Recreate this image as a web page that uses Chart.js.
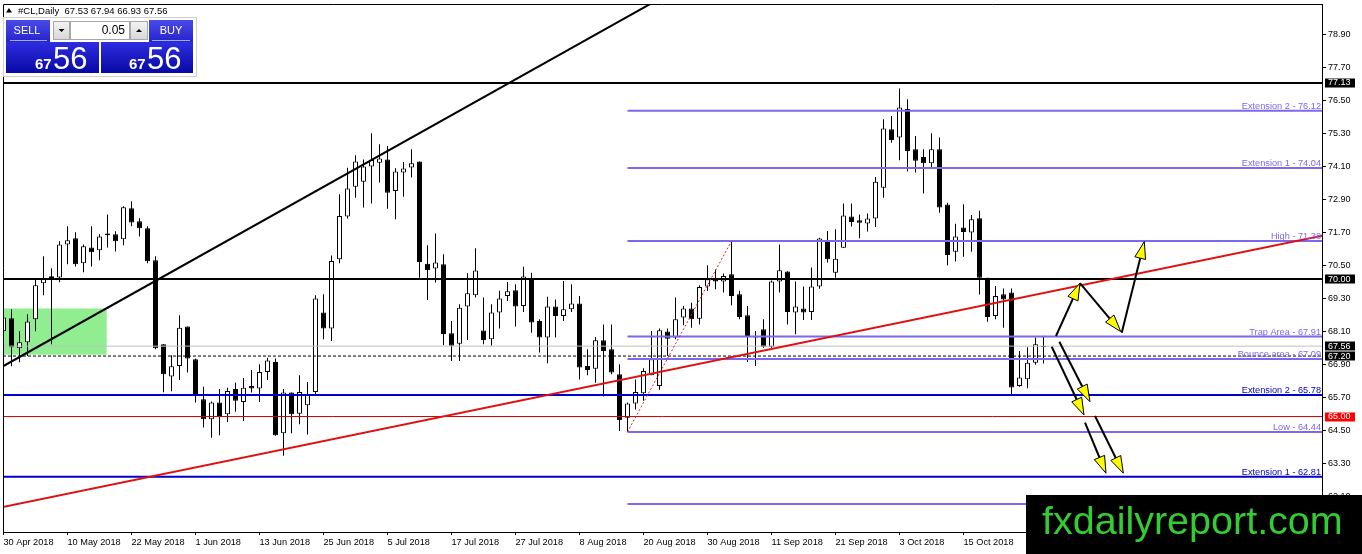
<!DOCTYPE html>
<html>
<head>
<meta charset="utf-8">
<script src="https://cdn.jsdelivr.net/npm/chart.js@4.4.1/dist/chart.umd.min.js"></script>
<style>
  html, body { margin: 0; padding: 0; background: #fff; }
  canvas { display: block; }
</style>
</head>
<body>
<canvas id="chart" width="1362" height="554"></canvas>
<script>
// #CL Daily, one bar per weekday from 30 Apr 2018
const opens = [
  68.10, 68.57, 67.48, 67.70, 68.54, 69.85, 70.03, 70.06, 71.26, 71.48,
  70.57, 71.15, 71.05, 71.59, 71.63, 71.45, 72.57, 72.10, 71.85, 70.68,
  67.63, 66.46, 66.84, 68.27, 67.08, 65.63, 64.90, 65.51, 65.08, 66.00,
  65.53, 66.11, 66.02, 66.62, 66.98, 64.39, 65.87, 65.10, 65.41, 65.89,
  68.78, 68.20, 70.72, 72.27, 73.36, 73.54, 74.09, 74.23, 74.35, 73.20,
  73.87, 74.06, 74.27, 70.56, 70.38, 70.54, 68.03, 67.65, 69.00, 69.41,
  68.13, 67.81, 68.78, 69.38, 69.59, 69.02, 70.03, 68.47, 67.87, 69.00,
  68.66, 68.90, 69.11, 66.84, 66.74, 67.77, 67.45, 66.54, 64.96, 65.47,
  65.85, 66.50, 66.11, 68.09, 67.87, 68.60, 68.93, 68.56, 69.73, 70.05,
  69.91, 70.17, 69.45, 68.68, 67.93, 68.17, 67.54, 69.91, 70.27, 68.78,
  68.93, 68.80, 69.73, 71.38, 70.23, 71.14, 72.27, 72.14, 72.02, 72.20,
  73.32, 75.45, 75.15, 76.18, 74.72, 74.44, 74.21, 74.72, 72.71, 70.99,
  71.87, 71.69, 72.21, 70.05, 68.66, 69.45, 69.51, 66.11, 66.36, 66.96,
  67.53
];
const highs = [
  69.37, 68.90, 68.10, 68.72, 70.03, 70.83, 70.39, 71.37, 71.92, 71.70,
  71.26, 71.92, 71.63, 72.35, 71.74, 72.65, 72.83, 72.21, 71.92, 70.83,
  67.63, 67.23, 68.68, 68.27, 67.11, 66.08, 65.55, 66.00, 66.05, 66.23,
  66.40, 66.69, 66.90, 67.14, 67.11, 66.00, 65.87, 66.50, 66.26, 69.41,
  69.45, 70.86, 73.08, 74.05, 74.50, 74.35, 75.30, 74.90, 74.84, 74.03,
  74.26, 74.72, 74.27, 71.23, 71.66, 70.90, 68.47, 69.08, 70.21, 71.12,
  69.33, 69.08, 69.57, 69.89, 69.81, 70.45, 70.23, 68.54, 69.36, 69.26,
  69.93, 69.81, 69.38, 67.45, 67.89, 68.35, 68.35, 66.90, 65.51, 66.35,
  66.76, 68.11, 68.20, 68.20, 69.33, 69.02, 69.14, 69.77, 70.50, 70.35,
  70.20, 71.38, 69.57, 69.02, 68.11, 68.54, 69.95, 71.26, 70.28, 69.91,
  69.73, 70.42, 71.50, 71.75, 71.81, 72.75, 72.75, 72.35, 72.38, 73.71,
  75.81, 75.93, 76.93, 76.54, 75.20, 74.72, 75.30, 75.15, 72.77, 72.01,
  72.72, 72.33, 72.48, 70.05, 69.75, 69.66, 69.66, 67.38, 67.52, 67.87,
  67.94
];
const lows = [
  67.60, 66.83, 66.97, 67.20, 68.10, 69.41, 67.63, 69.88, 70.54, 70.46,
  70.25, 70.46, 70.68, 71.15, 71.00, 71.23, 71.92, 71.55, 70.57, 67.45,
  65.88, 65.92, 66.33, 66.60, 65.51, 64.60, 64.23, 64.32, 64.80, 65.17,
  64.84, 65.87, 65.53, 66.33, 64.30, 63.57, 64.39, 64.72, 64.35, 65.75,
  67.81, 67.75, 70.57, 72.20, 72.96, 72.60, 72.75, 73.51, 72.56, 72.17,
  72.99, 73.69, 70.05, 69.24, 69.87, 67.59, 67.02, 67.02, 67.78, 69.33,
  67.63, 67.57, 68.20, 69.20, 68.27, 68.80, 68.05, 67.33, 66.94, 67.87,
  68.47, 68.80, 66.35, 66.50, 66.23, 65.73, 66.54, 64.47, 64.44, 65.26,
  65.57, 66.50, 65.97, 67.20, 67.81, 68.32, 68.23, 68.35, 69.57, 69.63,
  69.51, 69.05, 68.54, 66.98, 66.84, 67.50, 67.50, 69.51, 68.35, 67.99,
  68.51, 68.51, 69.65, 70.60, 70.05, 71.14, 71.91, 71.48, 71.73, 71.89,
  72.96, 74.96, 74.32, 73.91, 73.87, 73.11, 74.03, 72.41, 70.50, 70.64,
  70.81, 70.99, 69.44, 68.45, 68.54, 68.23, 65.75, 66.08, 66.03, 66.88,
  66.93
];
const closes = [
  68.60, 67.52, 67.70, 68.46, 69.77, 70.03, 70.10, 71.26, 71.41, 70.54,
  71.19, 70.97, 71.55, 71.66, 71.37, 72.61, 72.06, 71.85, 70.65, 67.48,
  66.54, 66.83, 68.23, 67.11, 65.75, 64.90, 65.51, 65.02, 65.93, 65.57,
  66.05, 66.02, 66.62, 67.04, 64.32, 65.87, 65.08, 65.89, 65.81, 69.29,
  68.20, 70.66, 72.29, 73.29, 74.27, 74.09, 74.33, 74.38, 73.14, 73.91,
  74.02, 74.21, 70.62, 70.33, 70.60, 68.00, 67.57, 68.96, 69.48, 70.31,
  67.78, 68.78, 69.29, 69.56, 69.00, 70.09, 68.42, 67.87, 69.00, 68.66,
  68.90, 69.11, 66.78, 66.69, 67.77, 67.38, 66.60, 64.87, 65.47, 65.89,
  66.66, 67.08, 68.14, 67.83, 68.54, 68.93, 68.54, 69.71, 69.99, 69.91,
  70.11, 69.38, 68.62, 67.93, 67.87, 67.54, 69.91, 70.32, 68.80, 69.00,
  68.78, 69.73, 71.47, 70.72, 70.74, 72.31, 72.07, 72.05, 72.20, 73.54,
  75.47, 75.06, 76.24, 74.66, 74.30, 74.21, 74.72, 72.60, 70.87, 71.55,
  71.71, 72.17, 70.05, 68.62, 69.38, 69.26, 66.06, 66.42, 66.96, 67.63,
  67.56
];

const dateBars = [0, 8, 16, 24, 32, 40, 48, 56, 64, 72, 80, 88, 96, 104, 112, 120];
const dateLabels = ['30 Apr 2018', '10 May 2018', '22 May 2018', '1 Jun 2018', '13 Jun 2018',
  '25 Jun 2018', '5 Jul 2018', '17 Jul 2018', '27 Jul 2018', '8 Aug 2018', '20 Aug 2018',
  '30 Aug 2018', '11 Sep 2018', '21 Sep 2018', '3 Oct 2018', '15 Oct 2018'];
const priceTicks = [78.90, 77.70, 76.50, 75.30, 74.10, 72.90, 71.70, 70.50, 69.30,
  68.10, 66.90, 65.70, 64.50, 63.30, 62.10];

// drawn objects
const blackLevels = [77.13, 70.00];
const redLevels = [65.00];
const dashedLevels = [67.20];
const fibStartBar = 78;
const fibLevels = [76.12, 74.04, 71.38, 67.91, 67.09, 64.44, 61.82];
const fibNames = ['Extension 2', 'Extension 1', 'High', 'Trap Area', 'Bounce area', 'Low', ''];
const extLevels = [65.78, 62.81];
const extNames = ['Extension 2', 'Extension 1'];
const blackTrend = [[0, 66.84], [43.3, 73.89]];
const redTrend = [[63.31, 65.50], [144.56, 70.36]];
const fibBase = [[78, 64.44], [91, 71.38]];
const greenBars = [-0.1, 12.9];
const greenPrices = [67.25, 68.93];
const arrowsFrom = [[131.56, 67.93], [134.56, 69.85], [139.78, 68.05], [131.98, 67.72],
  [131.03, 67.54], [135.19, 64.78], [136.44, 65.02]];
const arrowsTo = [[134.56, 69.85], [139.65, 68.09], [142.60, 71.36], [135.81, 65.54],
  [135.06, 65.06], [137.81, 62.94], [139.98, 62.94]];
const bid = closes[closes.length - 1];
const axisBoxes = [77.13, 70.00, bid, 67.20, 65.00];
const axisBoxColors = ['#000', '#000', '#000', '#000', '#ff0000'];

const FONT = 'Liberation Sans, Arial, sans-serif';
const PURPLE = '#7b68ee';
const BLUE = '#0000cd';

function fullLine(ctx, area, y, color, width, dash) {
  ctx.save();
  ctx.strokeStyle = color;
  ctx.lineWidth = width;
  ctx.setLineDash(dash || []);
  ctx.beginPath();
  ctx.moveTo(area.left, y);
  ctx.lineTo(area.right, y);
  ctx.stroke();
  ctx.restore();
}

function rayLine(ctx, x, y, pts, color, width) {
  const x0 = x.getPixelForValue(pts[0][0]), y0 = y.getPixelForValue(pts[0][1]);
  const x1 = x.getPixelForValue(pts[1][0]), y1 = y.getPixelForValue(pts[1][1]);
  const dx = x1 - x0, dy = y1 - y0, len = Math.hypot(dx, dy);
  const ux = dx / len * 4000, uy = dy / len * 4000;
  ctx.strokeStyle = color;
  ctx.lineWidth = width;
  ctx.beginPath();
  ctx.moveTo(x0 - ux, y0 - uy);
  ctx.lineTo(x0 + ux, y0 + uy);
  ctx.stroke();
}

function arrow(ctx, x0, y0, x1, y1) {
  const ang = Math.atan2(y1 - y0, x1 - x0);
  const len = 17, half = 5.5;
  const bx = x1 - len * Math.cos(ang), by = y1 - len * Math.sin(ang);
  ctx.strokeStyle = '#000';
  ctx.lineWidth = 2;
  ctx.beginPath();
  ctx.moveTo(x0, y0);
  ctx.lineTo(bx, by);
  ctx.stroke();
  ctx.beginPath();
  ctx.moveTo(x1, y1);
  ctx.lineTo(bx + half * Math.sin(ang), by - half * Math.cos(ang));
  ctx.lineTo(bx - half * Math.sin(ang), by + half * Math.cos(ang));
  ctx.closePath();
  ctx.fillStyle = '#ffff00';
  ctx.fill();
  ctx.lineWidth = 1;
  ctx.stroke();
}

function blueBox(ctx, x, y, w, h, top, bottom) {
  const g = ctx.createLinearGradient(0, y, 0, y + h);
  g.addColorStop(0, top);
  g.addColorStop(1, bottom);
  ctx.fillStyle = g;
  ctx.fillRect(x, y, w, h);
}

function grayButton(ctx, x, y, w, h, up) {
  const g = ctx.createLinearGradient(0, y, 0, y + h);
  g.addColorStop(0, '#f4f4f4');
  g.addColorStop(1, '#d6d6d6');
  ctx.fillStyle = g;
  ctx.fillRect(x, y, w, h);
  ctx.strokeStyle = '#a8a8a8';
  ctx.lineWidth = 1;
  ctx.strokeRect(x + 0.5, y + 0.5, w - 1, h - 1);
  const cx = x + w / 2, cy = y + h / 2;
  ctx.fillStyle = '#000';
  ctx.beginPath();
  if (up) {
    ctx.moveTo(cx - 3, cy + 1.5); ctx.lineTo(cx + 3, cy + 1.5); ctx.lineTo(cx, cy - 1.5);
  } else {
    ctx.moveTo(cx - 3, cy - 1.5); ctx.lineTo(cx + 3, cy - 1.5); ctx.lineTo(cx, cy + 1.5);
  }
  ctx.closePath();
  ctx.fill();
}

function drawPanel(ctx) {
  ctx.save();
  // header
  ctx.fillStyle = '#000';
  ctx.beginPath();
  ctx.moveTo(6, 12.5); ctx.lineTo(12, 12.5); ctx.lineTo(9, 8);
  ctx.closePath();
  ctx.fill();
  ctx.font = '9.5px ' + FONT;
  ctx.textAlign = 'left';
  ctx.textBaseline = 'alphabetic';
  ctx.fillText('#CL,Daily  ' + [opens, highs, lows, closes].map(a => a[a.length - 1].toFixed(2)).join(' '), 18, 13.5);

  // one click trading panel
  ctx.fillStyle = '#fff';
  ctx.fillRect(3, 17, 194, 60);
  ctx.strokeStyle = '#d0d0d0';
  ctx.lineWidth = 1;
  ctx.strokeRect(3.5, 17.5, 193, 59);
  blueBox(ctx, 6, 20, 44, 22, '#4a4aea', '#2424cc');
  blueBox(ctx, 149, 20, 44, 22, '#4a4aea', '#2424cc');
  blueBox(ctx, 6, 42, 93, 31, '#2e2ee2', '#0808a4');
  blueBox(ctx, 101, 42, 92, 31, '#2e2ee2', '#0808a4');
  ctx.fillStyle = 'rgba(255,255,255,0.6)';
  ctx.fillRect(10, 40, 37, 1);
  ctx.fillRect(152, 40, 38, 1);
  grayButton(ctx, 53, 21, 17, 19, false);
  grayButton(ctx, 130, 21, 18, 19, true);
  ctx.fillStyle = '#fff';
  ctx.fillRect(70, 21, 60, 19);
  ctx.strokeStyle = '#a8a8a8';
  ctx.strokeRect(70.5, 21.5, 59, 18);

  ctx.fillStyle = '#fff';
  ctx.font = '11px ' + FONT;
  ctx.textAlign = 'center';
  ctx.textBaseline = 'middle';
  ctx.fillText('SELL', 27, 31);
  ctx.fillText('BUY', 171, 31);
  ctx.fillStyle = '#000';
  ctx.font = '12px ' + FONT;
  ctx.textAlign = 'right';
  ctx.fillText('0.05', 125, 31);

  const big = bid.toFixed(2).split('.');
  ctx.fillStyle = '#fff';
  ctx.textBaseline = 'alphabetic';
  ctx.textAlign = 'left';
  ctx.font = 'bold 15px ' + FONT;
  ctx.fillText(big[0], 35, 69);
  ctx.fillText(big[0], 129, 69);
  ctx.font = '31px ' + FONT;
  ctx.fillText(big[1], 53, 68.5);
  ctx.fillText(big[1], 147, 68.5);
  ctx.restore();
}

const objectsPlugin = {
  id: 'mt4Objects',
  beforeDatasetsDraw(chart) {
    const { ctx, chartArea: area, scales: { x, y } } = chart;
    const x0 = Math.max(x.getPixelForValue(greenBars[0]), area.left), x1 = x.getPixelForValue(greenBars[1]);
    const y0 = y.getPixelForValue(greenPrices[1]), y1 = y.getPixelForValue(greenPrices[0]);
    ctx.save();
    ctx.fillStyle = '#90ee90';
    ctx.fillRect(x0, y0, x1 - x0, y1 - y0);
    ctx.restore();
  },
  afterDatasetsDraw(chart) {
    const { ctx, chartArea: area, scales: { x, y } } = chart;
    ctx.save();
    ctx.beginPath();
    ctx.rect(area.left, area.top, area.right - area.left, area.bottom - area.top);
    ctx.clip();

    fullLine(ctx, area, y.getPixelForValue(bid), '#c0c0c0', 1);
    dashedLevels.forEach(p => fullLine(ctx, area, y.getPixelForValue(p), '#000', 1, [3, 2]));
    redLevels.forEach(p => fullLine(ctx, area, y.getPixelForValue(p), '#cc0000', 1));
    blackLevels.forEach(p => fullLine(ctx, area, y.getPixelForValue(p), '#000', 2));
    extLevels.forEach(p => fullLine(ctx, area, y.getPixelForValue(p), BLUE, 2));

    // fibonacci levels from the swing low
    const fx = x.getPixelForValue(fibStartBar);
    ctx.strokeStyle = PURPLE;
    ctx.lineWidth = 2;
    fibLevels.forEach(p => {
      const py = y.getPixelForValue(p);
      ctx.beginPath();
      ctx.moveTo(fx, py);
      ctx.lineTo(area.right, py);
      ctx.stroke();
    });
    ctx.save();
    ctx.strokeStyle = '#dd2222';
    ctx.lineWidth = 1;
    ctx.setLineDash([2, 2]);
    ctx.beginPath();
    ctx.moveTo(x.getPixelForValue(fibBase[0][0]), y.getPixelForValue(fibBase[0][1]));
    ctx.lineTo(x.getPixelForValue(fibBase[1][0]), y.getPixelForValue(fibBase[1][1]));
    ctx.stroke();
    ctx.restore();

    rayLine(ctx, x, y, blackTrend, '#000', 2);
    rayLine(ctx, x, y, redTrend, '#e01010', 2);

    // level captions
    ctx.font = '9.2px ' + FONT;
    ctx.textAlign = 'right';
    ctx.textBaseline = 'alphabetic';
    ctx.fillStyle = PURPLE;
    fibLevels.forEach((p, i) => {
      if (fibNames[i]) ctx.fillText(fibNames[i] + ' - ' + p.toFixed(2), area.right - 1, y.getPixelForValue(p) - 2);
    });
    ctx.fillStyle = BLUE;
    extLevels.forEach((p, i) => ctx.fillText(extNames[i] + ' - ' + p.toFixed(2), area.right - 1, y.getPixelForValue(p) - 2));

    arrowsFrom.forEach((a, i) => {
      const b = arrowsTo[i];
      arrow(ctx, x.getPixelForValue(a[0]), y.getPixelForValue(a[1]), x.getPixelForValue(b[0]), y.getPixelForValue(b[1]));
    });
    ctx.restore();
  },
  afterDraw(chart) {
    const { ctx, chartArea: area, scales: { y } } = chart;
    ctx.save();
    // frame
    ctx.strokeStyle = '#000';
    ctx.lineWidth = 1;
    ctx.beginPath();
    ctx.moveTo(area.left + 0.5, area.bottom);
    ctx.lineTo(area.left + 0.5, area.top + 0.5);
    ctx.lineTo(area.right, area.top + 0.5);
    ctx.stroke();

    // price boxes on the axis
    ctx.font = '9px ' + FONT;
    ctx.textAlign = 'left';
    ctx.textBaseline = 'middle';
    axisBoxes.forEach((p, i) => {
      const py = y.getPixelForValue(p);
      ctx.fillStyle = axisBoxColors[i];
      ctx.fillRect(area.right + 3, Math.round(py) - 4.5, 30, 9);
      ctx.fillStyle = '#fff';
      ctx.fillText(p.toFixed(2), area.right + 6, py);
    });

    // watermark
    ctx.fillStyle = '#000';
    ctx.fillRect(1026, 495, 336, 59);
    ctx.fillStyle = '#33cc33';
    ctx.font = '39.5px ' + FONT;
    ctx.textBaseline = 'alphabetic';
    ctx.fillText('fxdailyreport.com', 1042, 534);
    ctx.restore();

    drawPanel(ctx);
  }
};

const wickData = highs.map((h, i) => ({ x: i, y: [lows[i], h] }));
const bodyData = opens.map((o, i) => ({ x: i, y: [o, closes[i]] }));

new Chart(document.getElementById('chart'), {
  type: 'bar',
  data: {
    datasets: [
      {
        label: 'Body',
        data: bodyData,
        order: 0,
        grouped: false,
        barThickness: 5,
        minBarLength: 1,
        borderWidth: 1,
        borderSkipped: false,
        borderColor: '#000',
        inflateAmount: 0,
        backgroundColor: ctx => {
          const i = ctx.dataIndex;
          return closes[i] >= opens[i] ? '#fff' : '#000';
        }
      },
      {
        label: 'Wick',
        data: wickData,
        order: 1,
        grouped: false,
        barThickness: 1,
        borderWidth: 0,
        inflateAmount: 0,
        backgroundColor: '#000'
      }
    ]
  },
  options: {
    responsive: false,
    animation: false,
    devicePixelRatio: 1,
    layout: { padding: { left: 3, top: 4, right: 0, bottom: 0 } },
    plugins: {
      legend: { display: false },
      tooltip: { enabled: false }
    },
    scales: {
      x: {
        type: 'linear',
        position: 'bottom',
        offset: false,
        min: -0.0625,
        max: 164.8125,
        afterBuildTicks: axis => { axis.ticks = dateBars.map(v => ({ value: v })); },
        afterFit: axis => { axis.height = 22; axis.paddingLeft = 0; axis.paddingRight = 0; },
        grid: { offset: false, drawOnChartArea: false, drawTicks: true, tickLength: 3, color: '#000' },
        border: { display: true, color: '#000', width: 1 },
        ticks: {
          autoSkip: false,
          maxRotation: 0,
          align: 'start',
          padding: 2,
          color: '#000',
          font: { family: FONT, size: 9.2 },
          callback: (value, index) => dateLabels[index]
        }
      },
      y: {
        type: 'linear',
        position: 'right',
        min: 60.8018,
        max: 80.0018,
        afterBuildTicks: axis => { axis.ticks = priceTicks.map(v => ({ value: v })); },
        afterFit: axis => { axis.width = 40; axis.paddingTop = 0; axis.paddingBottom = 0; },
        grid: { drawOnChartArea: false, drawTicks: true, tickLength: 4, color: '#000' },
        border: { display: true, color: '#000', width: 1 },
        ticks: {
          padding: 2,
          color: '#000',
          font: { family: FONT, size: 9 },
          callback: value => value.toFixed(2)
        }
      }
    }
  },
  plugins: [objectsPlugin]
});
</script>
</body>
</html>
